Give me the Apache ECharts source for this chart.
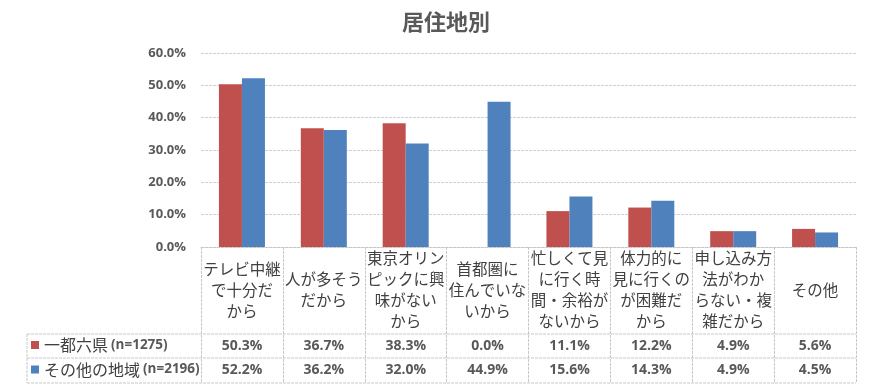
<!DOCTYPE html>
<html>
<head>
<meta charset="utf-8">
<script src="https://cdn.jsdelivr.net/npm/echarts@6/dist/echarts.min.js"></script>
<style>html,body{margin:0;padding:0;background:#fff}#c{width:892px;height:390px}</style>
</head>
<body>
<div id="c"></div>
<script>
const title = '居住地別';
const categories = [
  'テレビ中継\nで十分だ\nから',
  '人が多そう\nだから',
  '東京オリン\nピックに興\n味がない\nから',
  '首都圏に\n住んでいな\nいから',
  '忙しくて見\nに行く時\n間・余裕が\nないから',
  '体力的に\n見に行くの\nが困難だ\nから',
  '申し込み方\n法がわか\nらない・複\n雑だから',
  'その他'
];
const seriesNames = ['一都六県(n=1275)', 'その他の地域(n=2196)'];
const seriesA = [50.3, 36.7, 38.3, 0.0, 11.1, 12.2, 4.9, 5.6];
const seriesB = [52.2, 36.2, 32.0, 44.9, 15.6, 14.3, 4.9, 4.5];
const yTicks = [0, 10, 20, 30, 40, 50, 60];

const colors = ['#C0504D', '#4F81BD'];
const numFont = '"Open Sans", "Noto Sans", "Noto Sans CJK JP", sans-serif';
const cjkFont = '"Noto Sans CJK JP", "Noto Sans", sans-serif';
const G = {left: 201, right: 36, top: 53, bottom: 143};
const W = 892, H = 390;
const plotBottom = H - G.bottom;
const rowTop = 334, rowMid = 358, rowEnd = 383, tableLeft = 27;
const lineCol = '#c8c8c8';

const chart = echarts.init(document.getElementById('c'));
const valueAxis = (vals, offset) => ({
  type: 'category', data: categories, position: 'bottom', offset: offset,
  axisLine: {show: false}, axisTick: {show: false}, splitLine: {show: false},
  axisLabel: {interval: 0, margin: 0, verticalAlign: 'middle', fontFamily: numFont,
    fontWeight: 'bold', fontSize: 14, color: '#595959',
    formatter: (v, i) => vals[i].toFixed(1) + '%'}
});
const hline = (y) => ({type: 'line', shape: {x1: tableLeft, y1: y, x2: W - G.right, y2: y},
  style: {stroke: lineCol, lineWidth: 1, lineDash: [3, 1]}, silent: true});

chart.setOption({
  animation: false,
  title: {text: title, left: 'center', top: 6,
    textStyle: {fontFamily: cjkFont, fontSize: 22, fontWeight: 'bold', color: '#595959'}},
  grid: {left: G.left, right: G.right, top: G.top, bottom: G.bottom, containLabel: false},
  legend: {
    orient: 'vertical', left: 31, top: rowTop + 1, padding: 0, itemGap: 4.5,
    icon: 'rect', itemWidth: 8, itemHeight: 8,
    data: seriesNames,
    formatter: (name) => {
      const k = name.indexOf('(');
      return '{a|' + name.slice(0, k) + '}{b|' + name.slice(k) + '}';
    },
    textStyle: {lineHeight: 20, rich: {
      a: {fontFamily: cjkFont, fontSize: 16, color: '#404040', lineHeight: 20},
      b: {fontFamily: numFont, fontSize: 13.5, fontWeight: 'bold', color: '#595959', lineHeight: 20, padding: [0, 0, 0, 3]}
    }}
  },
  xAxis: [
    {type: 'category', data: categories,
      axisLine: {show: true, lineStyle: {color: lineCol, type: [3, 1]}},
      axisTick: {show: true, interval: 0, length: rowEnd - plotBottom, lineStyle: {color: lineCol, type: [3, 1]}},
      axisLabel: {interval: 0, margin: 43, verticalAlign: 'middle', fontFamily: cjkFont,
        fontSize: 15.5, lineHeight: 21, color: '#404040'}},
    valueAxis(seriesA, (rowTop + rowMid) / 2 - plotBottom),
    valueAxis(seriesB, (rowMid + rowEnd) / 2 - plotBottom)
  ],
  yAxis: {type: 'value', min: yTicks[0], max: yTicks[yTicks.length - 1], interval: 10,
    axisLine: {show: false}, axisTick: {show: false},
    splitLine: {lineStyle: {color: '#d0d0d0', type: [3, 1]}},
    axisLabel: {margin: 15, fontFamily: numFont, fontWeight: 'bold', fontSize: 13, color: '#595959',
      formatter: (v) => v.toFixed(1) + '%'}},
  series: [
    {name: seriesNames[0], type: 'bar', data: seriesA, barWidth: 23, barGap: '0%', itemStyle: {color: colors[0]}},
    {name: seriesNames[1], type: 'bar', data: seriesB, barWidth: 23, barGap: '0%', itemStyle: {color: colors[1]}}
  ],
  graphic: [
    hline(rowTop), hline(rowMid), hline(rowEnd),
    {type: 'line', shape: {x1: tableLeft, y1: rowTop, x2: tableLeft, y2: rowEnd},
      style: {stroke: lineCol, lineWidth: 1, lineDash: [3, 1]}, silent: true}
  ]
});
</script>
</body>
</html>
